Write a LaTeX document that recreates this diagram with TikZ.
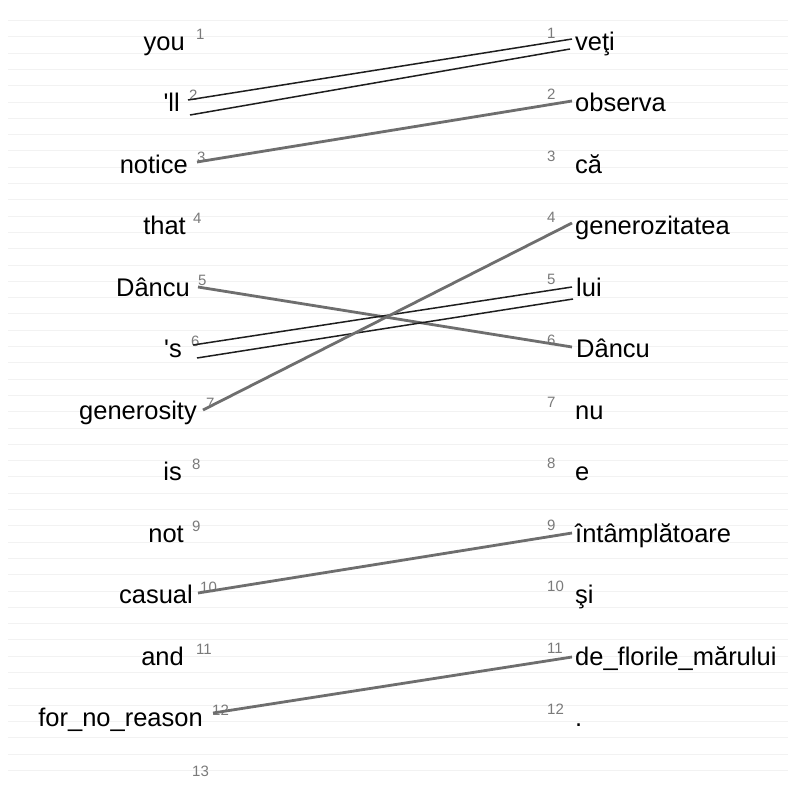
\documentclass[tikz,border=0pt]{standalone}
\usepackage{fontspec}
\setmainfont{Liberation Sans}
\definecolor{numgray}{HTML}{7A7A7A}
\definecolor{linkgray}{HTML}{6E6E6E}
\definecolor{linkdark}{HTML}{1E1E1E}
\definecolor{stripe}{HTML}{F2F2F2}
\tikzset{
  word/.style={inner sep=0pt, font=\fontsize{25.5}{30}\selectfont, text=black},
  lword/.style={word, anchor=base east},
  rword/.style={word, anchor=base west},
  idx/.style={inner sep=0pt, font=\fontsize{15}{18}\selectfont, text=numgray, anchor=base west},
  single/.style={draw=linkgray, line width=2.8pt},
  double/.style={draw=linkdark, line width=1.5pt}
}
\begin{document}
\begin{tikzpicture}[x=1pt,y=-1pt]
\useasboundingbox (0,0) rectangle (788,785);
\fill[white] (0,0) rectangle (788,785);
\foreach \k in {0,...,46} {
  \draw[stripe, line width=1pt] (8,{20.5+16.3*\k}) -- (788,{20.5+16.3*\k});
}
% left words
\node[lword] (lw1) at (185,50) {you};
\node[lword] (lw2) at (180,111.5) {\textquotesingle ll};
\node[lword] (lw3) at (188,173) {notice};
\node[lword] (lw4) at (186,234.5) {that};
\node[lword] (lw5) at (190,296) {Dâncu};
\node[lword] (lw6) at (182,357.5) {\textquotesingle s};
\node[lword] (lw7) at (197,419) {generosity};
\node[lword] (lw8) at (182,480.5) {is};
\node[lword] (lw9) at (184,542) {not};
\node[lword] (lw10) at (193,603.5) {casual};
\node[lword] (lw11) at (184,665) {and};
\node[lword] (lw12) at (203,726.5) {for\_no\_reason};
% left indices
\node[idx] (ln1) at (196,39) {1};
\node[idx] (ln2) at (189,100.5) {2};
\node[idx] (ln3) at (197,162) {3};
\node[idx] (ln4) at (193,223.5) {4};
\node[idx] (ln5) at (198,285) {5};
\node[idx] (ln6) at (191,346.5) {6};
\node[idx] (ln7) at (206,408) {7};
\node[idx] (ln8) at (192,469.5) {8};
\node[idx] (ln9) at (192,531) {9};
\node[idx] (ln10) at (200,592.5) {10};
\node[idx] (ln11) at (196,654) {11};
\node[idx] (ln12) at (212,715.5) {12};
\node[idx] (ln13) at (192,776) {13};
% right indices
\node[idx] (rn1) at (547,38) {1};
\node[idx] (rn2) at (547,99.5) {2};
\node[idx] (rn3) at (547,161) {3};
\node[idx] (rn4) at (547,222.5) {4};
\node[idx] (rn5) at (547,284) {5};
\node[idx] (rn6) at (547,345.5) {6};
\node[idx] (rn7) at (547,407) {7};
\node[idx] (rn8) at (547,468.5) {8};
\node[idx] (rn9) at (547,530) {9};
\node[idx] (rn10) at (547,591.5) {10};
\node[idx] (rn11) at (547,653) {11};
\node[idx] (rn12) at (547,714.5) {12};
% right words
\node[rword] (rw1) at (575,50) {veţi};
\node[rword] (rw2) at (575,111.5) {observa};
\node[rword] (rw3) at (575,173) {că};
\node[rword] (rw4) at (575,234.5) {generozitatea};
\node[rword] (rw5) at (576,296) {lui};
\node[rword] (rw6) at (576,357.5) {Dâncu};
\node[rword] (rw7) at (575,419) {nu};
\node[rword] (rw8) at (575,480.5) {e};
\node[rword] (rw9) at (575,542) {întâmplătoare};
\node[rword] (rw10) at (575,603.5) {şi};
\node[rword] (rw11) at (575,665) {de\_florile\_mărului};
\node[rword] (rw12) at (575,726.5) {.};
% connector end points
\coordinate (c2u) at (188,100);   \coordinate (c1u) at (572,39);
\coordinate (c2l) at (190,115);   \coordinate (c1l) at (570,49);
\coordinate (c3)  at (197,162);   \coordinate (r2)  at (572,101);
\coordinate (c5)  at (198,287);   \coordinate (r6)  at (572,347);
\coordinate (c6u) at (193,345);   \coordinate (r5u) at (572,287);
\coordinate (c6l) at (197,358);   \coordinate (r5l) at (573,299);
\coordinate (c7)  at (203,410);   \coordinate (r4)  at (572,223);
\coordinate (c10) at (198,593);   \coordinate (r9)  at (572,533);
\coordinate (c12) at (213,713);   \coordinate (r11) at (572,657);
% connectors
\draw[double] (c2u) -- (c1u);
\draw[double] (c2l) -- (c1l);
\draw[single] (c3) -- (r2);
\draw[single] (c5) -- (r6);
\draw[double] (c6u) -- (r5u);
\draw[double] (c6l) -- (r5l);
\draw[single] (c7) -- (r4);
\draw[single] (c10) -- (r9);
\draw[single] (c12) -- (r11);
\end{tikzpicture}
\end{document}
